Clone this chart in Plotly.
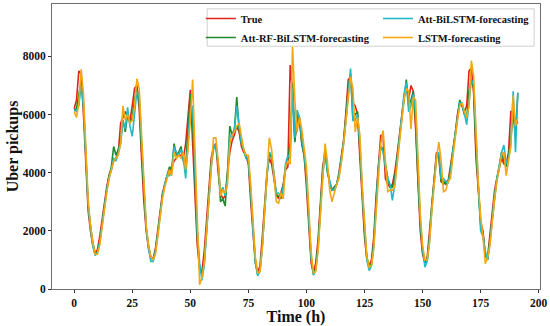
import plotly.graph_objects as go

hours = list(range(192))

true_vals = [
    6200, 6500, 7500, 7400, 6000, 4200, 2700, 2000, 1500, 1200,
    1350, 1800, 2400, 3000, 3500, 3900, 4100, 4400, 4500, 4700,
    5700, 5900, 6100, 5900, 5800, 6300, 6900, 7000, 6200, 4500,
    3000, 2000, 1400, 1050, 1050, 1400, 2000, 2700, 3300, 3600,
    3900, 4000, 4200, 4400, 4500, 4600, 4600, 4500, 5000, 6000,
    6850, 5000, 3000, 1500, 700, 600, 1300, 2300, 3400, 4500,
    4900, 5000, 4000, 3300, 3100, 3200, 4000, 4700, 5100, 5300,
    5600, 5400, 4900, 4700, 4600, 4300, 3000, 1800, 900, 550,
    800, 1800, 3000, 4000, 4500, 4300, 3800, 3300, 3100, 3300,
    3600, 4100, 4200, 7700, 6800, 5100, 5800, 5900, 5000, 4600,
    3500, 2000, 900, 550, 900, 1700, 2900, 4200, 4700, 4100,
    3600, 3400, 3500, 3600, 4000, 4500, 5100, 6100, 7200, 7300,
    6400, 6300, 6000, 4500, 3000, 1800, 1000, 800, 1000, 1800,
    3200, 4300, 5300, 5200, 3800, 3600, 3500, 3600, 4000, 4600,
    5300, 6000, 6600, 6900, 6500, 7000, 6800, 5500, 3500, 2000,
    1200, 900, 1100, 2000, 3000, 4000, 4700, 4500, 3700, 3600,
    3700, 3700, 4200, 4800, 5300, 6000, 6400, 6300, 6100, 6300,
    7500, 7600, 6700, 4500, 3200, 2300, 2000, 1100, 1100, 1900,
    2700, 3400, 3800, 4200, 4500, 4300, 4300, 4700, 6100, 6100,
    5800, 5700,
]

att_rf_bilstm = [
    6150, 6200, 6700, 7100, 6400, 4600, 2900, 2200, 1600, 1250,
    1250, 1600, 2200, 2900, 3400, 3900, 4200, 4900, 4600, 4800,
    5100, 5800, 5400, 6000, 5700, 5900, 6500, 6900, 6500, 4800,
    3200, 2100, 1500, 1100, 1000, 1300, 1900, 2600, 3200, 3600,
    3900, 4200, 4100, 5000, 4600, 4700, 4900, 4400, 4200, 5500,
    6700, 5800, 3500, 1800, 700, 500, 900, 2000, 3100, 4300,
    4900, 4900, 4300, 3000, 3100, 2850, 4000, 5600, 5300, 5500,
    6600, 5500, 5000, 4800, 4500, 4400, 3300, 2000, 1000, 500,
    600, 1500, 2800, 3900, 4700, 4500, 3900, 3200, 3200, 3100,
    3500, 4200, 4500, 5000, 7100, 5050, 6000, 5800, 5000, 4600,
    3800, 2300, 1100, 500, 700, 1500, 2700, 4000, 4800, 4000,
    3700, 3400, 3500, 3600, 3900, 4500, 5100, 5900, 6900, 7400,
    5800, 6000, 6100, 4800, 3200, 2000, 1100, 750, 850, 1600,
    3000, 4200, 4900, 4800, 4300, 3800, 3500, 3500, 3800, 4500,
    5200, 5900, 6700, 7200, 6300, 6500, 6800, 5800, 3800, 2300,
    1300, 950, 1000, 1800, 2900, 3900, 4600, 4600, 3700, 3700,
    3600, 3700, 4100, 4700, 5300, 5900, 6500, 6300, 6000, 5900,
    6800, 7200, 6900, 4800, 3400, 2200, 1900, 1200, 1000, 1700,
    2600, 3300, 3800, 4200, 4700, 4400, 4200, 4600, 5200, 6000,
    5300, 6750,
]

att_bilstm = [
    6150, 6100, 6300, 7000, 6300, 4700, 2900, 2100, 1500, 1150,
    1250, 1600, 2200, 2900, 3400, 3800, 4100, 4500, 4400, 4700,
    5000, 5800, 5500, 6250, 5600, 5250, 6000, 6800, 6600, 5000,
    3300, 2100, 1400, 950, 950, 1300, 1900, 2600, 3200, 3600,
    3900, 3900, 4000, 4900, 4700, 4600, 4800, 4500, 3800, 5000,
    6200, 6300, 4000, 2000, 900, 300, 800, 1900, 3000, 4200,
    4800, 5000, 4300, 3300, 3500, 3200, 3800, 5300, 5200, 5500,
    6300, 5600, 5000, 4800, 4500, 4400, 3400, 2000, 900, 450,
    650, 1500, 2700, 3900, 4700, 4600, 4000, 3300, 3300, 3200,
    3500, 4300, 4600, 4500, 6900, 5200, 6150, 5900, 5200, 4700,
    3900, 2400, 1100, 480, 650, 1400, 2600, 3900, 4700, 4100,
    3700, 3400, 3400, 3600, 3900, 4500, 5000, 5800, 6800, 7580,
    5800, 5800, 6000, 5000, 3400, 2000, 1000, 630, 800, 1500,
    2900, 4200, 4900, 4700, 4200, 3800, 3600, 3050, 3600, 4400,
    5100, 5900, 6700, 7100, 6100, 6300, 6700, 6100, 4000, 2400,
    1400, 750, 950, 1700, 2800, 3800, 4500, 4700, 3800, 3800,
    3700, 3650, 4000, 4700, 5300, 5900, 6400, 6400, 6000, 5650,
    6400, 7200, 7000, 5000, 3600, 2000, 1800, 1300, 1000, 1600,
    2500, 3200, 3800, 4200, 4700, 4950, 4300, 4500, 5000, 6800,
    4700, 6750,
]

lstm = [
    6100, 5900, 6400, 7550, 6700, 5000, 3100, 2200, 1600, 1200,
    1200, 1500, 2100, 2800, 3300, 3800, 4100, 4400, 4500, 4600,
    5000, 6300, 5800, 6000, 5700, 5800, 6300, 7230, 6900, 5200,
    3400, 2200, 1500, 1100, 1000, 1200, 1800, 2500, 3100, 3500,
    3800, 4100, 3900, 4700, 4500, 4600, 4500, 4700, 4100, 4800,
    5800, 7200, 4800, 2200, 150, 400, 900, 2000, 3000, 4200,
    5200, 5200, 4400, 3200, 3400, 3300, 3600, 5000, 5300, 5400,
    5600, 5700, 5200, 4800, 4600, 4600, 3600, 2200, 1100, 550,
    600, 1400, 2600, 3800, 5200, 4800, 3800, 3000, 2950, 3300,
    3100, 4200, 4400, 4300, 8400, 6500, 5400, 5900, 5500, 4800,
    4200, 2800, 1300, 550, 600, 1300, 2500, 3800, 5000, 4400,
    3400, 3000, 3300, 3600, 3800, 4300, 5000, 5700, 6600, 7300,
    6900, 5400, 5900, 5300, 3600, 2200, 1100, 750, 800, 1400,
    2700, 4000, 5000, 5450, 4500, 3350, 3400, 3400, 3500, 4300,
    5000, 5800, 6500, 6900, 6800, 5500, 6600, 6500, 4300, 2600,
    1500, 1000, 1000, 1600, 2700, 3700, 4500, 5050, 4400, 3350,
    3400, 3700, 3800, 4500, 5200, 5800, 6300, 6400, 6100, 5900,
    6300, 7850, 7300, 5300, 3600, 2500, 1800, 870, 1100, 1500,
    2400, 3100, 3700, 4100, 4600, 4700, 3900, 4400, 4900, 6650,
    5600, 5900,
]

x_ticks = [0, 25, 50, 75, 100, 125, 150, 175, 200]
y_ticks = [0, 2000, 4000, 6000, 8000]

series = [
    ("True", true_vals, "#e0231c", "legend", 1),
    ("Att-RF-BiLSTM-forecasting", att_rf_bilstm, "#1f8a2c", "legend", 2),
    ("Att-BiLSTM-forecasting", att_bilstm, "#22b9c6", "legend2", 3),
    ("LSTM-forecasting", lstm, "#f3a812", "legend2", 4),
]

FONT = "Liberation Serif"

fig = go.Figure()
for name, vals, color, leg, rank in series:
    fig.add_trace(go.Scatter(
        x=hours, y=vals, mode="lines", name=name,
        line=dict(color=color, width=1.6),
        legend=leg, legendrank=rank,
    ))

axis_common = dict(
    showgrid=False, zeroline=False, showline=True, mirror=True,
    linecolor="#6e6e6e", linewidth=1, automargin=False,
    ticks="outside", ticklen=3, tickwidth=1, tickcolor="#333",
    tickfont=dict(family=FONT, size=11.5, color="#111", weight="bold"),
)

fig.update_layout(
    width=550, height=326,
    margin=dict(l=52, r=10, t=4, b=37),
    paper_bgcolor="white", plot_bgcolor="white",
    showlegend=True,
    xaxis=dict(range=[-9.55, 200.55], tickvals=x_ticks,
               title=dict(text="Time (h)", standoff=0,
                          font=dict(family=FONT, size=16, color="#111", weight="bold")),
               **axis_common),
    yaxis=dict(range=[0, 9800], tickvals=y_ticks,
               title=dict(text="Uber pickups", standoff=0,
                          font=dict(family=FONT, size=16, color="#111", weight="bold")),
               **axis_common),
    legend=dict(x=0.305, y=1.0, xanchor="left", yanchor="top",
                bgcolor="rgba(0,0,0,0)", borderwidth=0,
                font=dict(family=FONT, size=10.5, color="#111", weight="bold")),
    legend2=dict(x=0.668, y=1.0, xanchor="left", yanchor="top",
                 bgcolor="rgba(0,0,0,0)", borderwidth=0,
                 font=dict(family=FONT, size=10.5, color="#111", weight="bold")),
    shapes=[dict(type="rect", xref="paper", yref="paper",
                 x0=0.318, x1=0.988, y0=0.852, y1=0.983,
                 line=dict(color="#d0d0d0", width=1), fillcolor="white",
                 layer="above")],
)

fig.write_html("out.html", config={"displayModeBar": False},
               post_script="document.body.style.margin='0';")
